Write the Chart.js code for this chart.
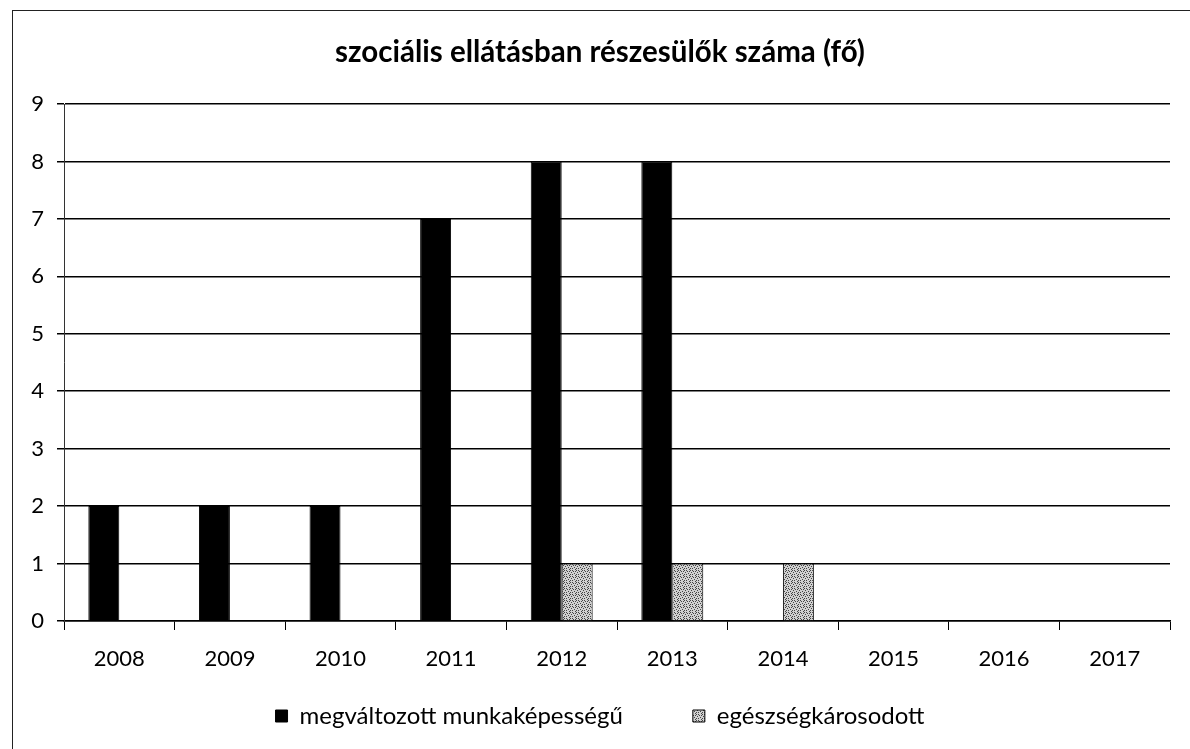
<!DOCTYPE html>
<html>
<head>
<meta charset="utf-8">
<script src="https://cdn.jsdelivr.net/npm/chart.js@4"></script>
<style>
  html, body { margin: 0; padding: 0; background: #fff; overflow: hidden; }
  #frame { position: absolute; left: 12px; top: 10px; width: 1200px; height: 760px; border: 1px solid #222; box-sizing: border-box; }
  #wrap { position: absolute; left: 0; top: 0; width: 1190px; height: 749px; }
</style>
</head>
<body>
<div id="frame"></div>
<div id="wrap"><canvas id="chart"></canvas></div>
<script>
const years = ["2008", "2009", "2010", "2011", "2012", "2013", "2014", "2015", "2016", "2017"];
const changedAbility = [2, 2, 2, 7, 8, 8, 0, 0, 0, 0]; // megváltozott munkaképességű
const healthDamaged = [0, 0, 0, 0, 1, 1, 1, 0, 0, 0]; // egészségkárosodott
const yTicks = [0, 1, 2, 3, 4, 5, 6, 7, 8, 9];

// Speckled grey fill like the scanned print
const makeDots = () => {
  const c = document.createElement("canvas");
  c.width = 6; c.height = 6;
  const g = c.getContext("2d");
  g.fillStyle = "#d0d0d0";
  g.fillRect(0, 0, 6, 6);
  g.fillStyle = "#444";
  const dots = [[0,0],[3,1],[1,2],[4,3],[2,4],[5,5],[0,4],[5,1],[2,0]];
  dots.forEach(([x, y]) => g.fillRect(x, y, 1, 1));
  return g.createPattern(c, "repeat");
};

const ctx = document.getElementById("chart");
const font = "Lato, 'Open Sans', sans-serif";

new Chart(ctx, {
  type: "bar",
  data: {
    labels: years,
    datasets: [
      {
        label: "megváltozott munkaképességű",
        data: changedAbility,
        backgroundColor: "#000",
        borderColor: "#000",
        borderWidth: 1,
      },
      {
        label: "egészségkárosodott",
        data: healthDamaged,
        backgroundColor: makeDots(),
        borderColor: "#000",
        borderWidth: 1,
      },
    ],
  },
  options: {
    responsive: true,
    maintainAspectRatio: false,
    animation: false,
    layout: { padding: { left: 30, right: 20, top: 35, bottom: 11 } },
    datasets: { bar: { categoryPercentage: 0.56, barPercentage: 1 } },
    plugins: {
      tooltip: { enabled: false },
      title: {
        display: true,
        text: "szociális ellátásban részesülők száma (fő)",
        color: "#000",
        font: { family: font, size: 29.5, weight: "bold" },
        padding: { top: 0, bottom: 33.6 },
      },
      legend: {
        position: "bottom",
        labels: {
          color: "#000",
          font: { family: font, size: 24 },
          boxWidth: 12,
          boxHeight: 12,
          padding: 27,
          // wider gap between the two entries, as in the original
          generateLabels: (chart) => {
            const items = Chart.defaults.plugins.legend.labels.generateLabels(chart);
            items[0].text += "       ";
            return items;
          },
        },
      },
    },
    scales: {
      x: {
        grid: { drawOnChartArea: false, drawTicks: true, tickLength: 9, color: "#000" },
        border: { color: "#000", width: 1.5 },
        ticks: { color: "#000", font: { family: font, size: 22 }, padding: 16 },
        afterFit: (s) => { s.height = 56; },
      },
      y: {
        min: 0,
        max: 9,
        afterBuildTicks: (s) => { s.ticks = yTicks.map((v) => ({ value: v })); },
        grid: { color: "#000", lineWidth: 1.5, tickLength: 7 },
        border: { color: "#333", width: 1 },
        ticks: { color: "#000", font: { family: font, size: 22 }, padding: 13 },
        afterFit: (s) => { s.width = 34; },
      },
    },
  },
});
</script>
</body>
</html>
